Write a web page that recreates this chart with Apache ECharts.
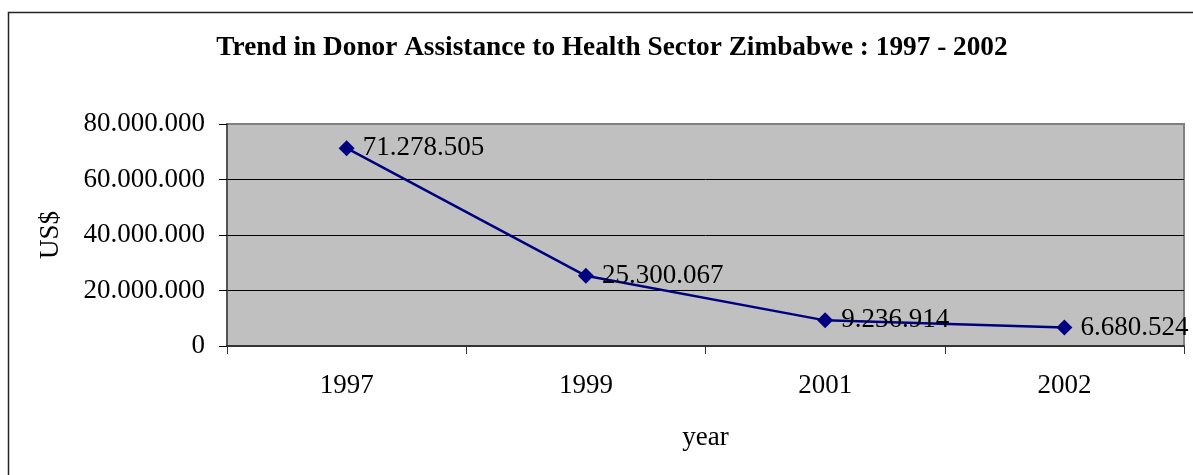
<!DOCTYPE html>
<html>
<head>
<meta charset="utf-8">
<script src="https://cdn.jsdelivr.net/npm/echarts@6/dist/echarts.min.js"></script>
<style>
html,body{margin:0;padding:0;background:#fff;}
#chart{width:1193px;height:475px;}
</style>
</head>
<body>
<div id="chart"></div>
<script>
const titleText = 'Trend in Donor Assistance to Health Sector Zimbabwe : 1997 - 2002';
const categories = ['1997', '1999', '2001', '2002'];
const values = [71278505, 25300067, 9236914, 6680524];
const yAxisName = 'US$';
const xAxisName = 'year';

const FONT = '"Liberation Serif", "Times New Roman", serif';
function fmt(v) {
  return String(Math.round(v)).replace(/\B(?=(\d{3})+(?!\d))/g, '.');
}

const chart = echarts.init(document.getElementById('chart'), null, {renderer: 'canvas'});
chart.setOption({
  backgroundColor: '#ffffff',
  animation: false,
  title: {
    text: titleText,
    left: 607,
    textAlign: 'center',
    top: 29,
    textStyle: {fontFamily: FONT, fontSize: 27.3, fontWeight: 'bold', color: '#000'}
  },
  graphic: [{
    type: 'rect',
    shape: {x: 8.5, y: 12.5, width: 1300, height: 600},
    style: {fill: 'none', stroke: '#222', lineWidth: 1.5},
    silent: true,
    z: 100
  }],
  grid: {
    left: 227, right: 9, top: 124, bottom: 129,
    show: true,
    backgroundColor: '#C0C0C0',
    borderColor: '#808080',
    borderWidth: 2
  },
  xAxis: {
    type: 'category',
    data: categories,
    boundaryGap: true,
    name: xAxisName,
    nameLocation: 'middle',
    nameGap: 78,
    nameTextStyle: {fontFamily: FONT, fontSize: 27, color: '#000'},
    axisLine: {show: true, lineStyle: {color: '#333', width: 2}},
    axisTick: {show: true, inside: false, length: 8, alignWithLabel: false, lineStyle: {color: '#333', width: 1}},
    axisLabel: {fontFamily: FONT, fontSize: 27, color: '#000', margin: 26},
    splitLine: {show: false}
  },
  yAxis: {
    type: 'value',
    min: 0, max: 80000000, interval: 20000000,
    name: yAxisName,
    nameLocation: 'middle',
    nameRotate: 90,
    nameGap: 163,
    nameTextStyle: {fontFamily: FONT, fontSize: 27, color: '#000'},
    axisLine: {show: true, lineStyle: {color: '#444', width: 1.5}},
    axisTick: {show: true, inside: false, length: 8, lineStyle: {color: '#000', width: 1}},
    axisLabel: {fontFamily: FONT, fontSize: 27, color: '#000', margin: 22, formatter: fmt},
    splitLine: {show: true, lineStyle: {color: ['#000', '#000', '#000', '#000', '#808080'], width: 1}}
  },
  series: [{
    type: 'line',
    data: values,
    symbol: 'diamond',
    symbolSize: 16,
    lineStyle: {color: '#000080', width: 2.5},
    itemStyle: {color: '#000080'},
    label: {
      show: true,
      position: 'right',
      distance: 8,
      fontFamily: FONT,
      fontSize: 27,
      color: '#000',
      formatter: p => fmt(p.value)
    },
    z: 5
  }]
});
</script>
</body>
</html>
